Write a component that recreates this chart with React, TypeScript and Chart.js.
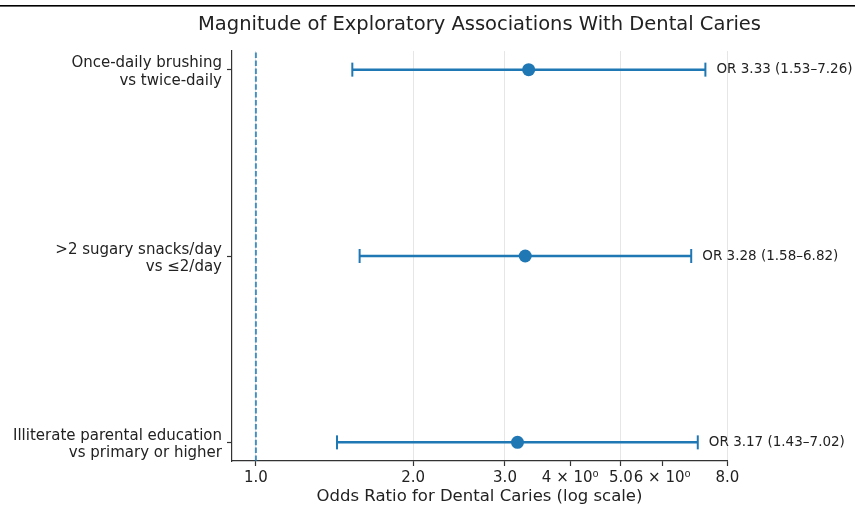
import React, { useEffect, useRef } from "react";
import { Chart, registerables } from "chart.js";

Chart.register(...registerables);

// ---- data ----
const categoryLabels: string[][] = [
  ["Illiterate parental education", "vs primary or higher"],
  [">2 sugary snacks/day", "vs ≤2/day"],
  ["Once-daily brushing", "vs twice-daily"],
];
const yPositions = [0, 1, 2];
const oddsRatios = [3.17, 3.28, 3.33];
const lowerCI = [1.43, 1.58, 1.53];
const upperCI = [7.02, 6.82, 7.26];
const annotationLabels = [
  "OR 3.17 (1.43–7.02)",
  "OR 3.28 (1.58–6.82)",
  "OR 3.33 (1.53–7.26)",
];
const xTickValues = [1, 2, 3, 4, 5, 6, 8];
const xTickLabels = ["1.0", "2.0", "3.0", "4 × 10⁰", "5.0", "6 × 10⁰", "8.0"];
const xGridValues = [1, 2, 3, 5, 8];
const xMin = 0.9;
const xMax = 7.986;
const yMin = -0.1;
const yMax = 2.1;
const refValue = 1;
const titleText = "Magnitude of Exploratory Associations With Dental Caries";
const xAxisTitle = "Odds Ratio for Dental Caries (log scale)";

const BLUE = "#1f77b4";
const FONT = '"DejaVu Sans", sans-serif';

export default function App() {
  const ref = useRef<HTMLCanvasElement | null>(null);

  useEffect(() => {
    if (!ref.current) return;

    const overlay = {
      id: "overlay",
      beforeDraw(chart: any) {
        const { ctx } = chart;
        ctx.save();
        ctx.fillStyle = "#000";
        ctx.fillRect(0, 5, chart.width, 1.6);
        ctx.restore();
      },
      afterDatasetsDraw(chart: any) {
        const { ctx, chartArea } = chart;
        const x = chart.scales.x;
        const y = chart.scales.y;
        ctx.save();
        ctx.fillStyle = "#222";
        ctx.textBaseline = "middle";
        ctx.textAlign = "left";
        ctx.font = `13.5px ${FONT}`;
        for (let i = 0; i < yPositions.length; i++) {
          ctx.fillText(
            annotationLabels[i],
            x.getPixelForValue(upperCI[i] * 1.05),
            y.getPixelForValue(yPositions[i])
          );
        }
        const cx = (chartArea.left + chartArea.right) / 2;
        ctx.textAlign = "center";
        ctx.font = `19.5px ${FONT}`;
        ctx.fillText(titleText, cx, 25);
        ctx.font = `16.5px ${FONT}`;
        ctx.fillText(xAxisTitle, cx, 497);
        ctx.restore();
      },
    };

    const datasets: any[] = [
      {
        label: "OR",
        data: yPositions.map((yv, i) => ({ x: oddsRatios[i], y: yv })),
        backgroundColor: BLUE,
        borderColor: BLUE,
        pointRadius: 6.5,
        pointBorderWidth: 0,
        showLine: false,
      },
    ];
    yPositions.forEach((yv, i) => {
      datasets.push({
        label: "CI" + i,
        data: [
          { x: lowerCI[i], y: yv },
          { x: upperCI[i], y: yv },
        ],
        showLine: true,
        borderColor: BLUE,
        borderWidth: 2.5,
        pointStyle: "line",
        pointRotation: 90,
        pointRadius: 7,
        pointBorderWidth: 2,
        pointBorderColor: BLUE,
        pointBackgroundColor: BLUE,
      });
    });
    datasets.push({
      label: "ref",
      data: [
        { x: refValue, y: yMin },
        { x: refValue, y: yMax },
      ],
      showLine: true,
      borderColor: "rgba(31,119,180,0.8)",
      borderWidth: 2,
      borderDash: [5.5, 2.4],
      pointRadius: 0,
    });

    const chart = new Chart(ref.current, {
      type: "scatter",
      data: { datasets },
      plugins: [overlay],
      options: {
        responsive: false,
        animation: false,
        devicePixelRatio: 1,
        layout: { padding: { top: 51, right: 128, left: 0, bottom: 0 } },
        plugins: {
          legend: { display: false },
          tooltip: { enabled: false },
          title: { display: false },
        },
        scales: {
          x: {
            type: "logarithmic",
            min: xMin,
            max: xMax,
            afterBuildTicks: (s: any) => {
              s.ticks = xTickValues.map((v) => ({ value: v }));
            },
            afterFit: (s: any) => {
              s.height = 48;
            },
            ticks: {
              autoSkip: false,
              maxRotation: 0,
              minRotation: 0,
              padding: 3,
              color: "#222",
              font: { family: FONT, size: 15 },
              callback: (v: any) => {
                const idx = xTickValues.indexOf(Number(v));
                return idx >= 0 ? xTickLabels[idx] : "";
              },
            },
            grid: {
              display: true,
              drawOnChartArea: true,
              drawTicks: true,
              tickLength: 5,
              tickWidth: 1.2,
              tickColor: "#333",
              lineWidth: 1,
              color: (ctx: any) =>
                ctx.tick && xGridValues.includes(ctx.tick.value)
                  ? "#e6e6e6"
                  : "rgba(0,0,0,0)",
            },
            border: { display: true, color: "#333", width: 1.2 },
          },
          y: {
            type: "linear",
            min: yMin,
            max: yMax,
            afterBuildTicks: (s: any) => {
              s.ticks = yPositions.map((v) => ({ value: v }));
            },
            afterFit: (s: any) => {
              s.width = 232;
            },
            ticks: {
              autoSkip: false,
              padding: 5,
              labelOffset: 2.5,
              color: "#222",
              font: { family: FONT, size: 15, lineHeight: 1.15 },
              callback: (v: any) => {
                const idx = yPositions.indexOf(Number(v));
                return idx >= 0 ? categoryLabels[idx] : "";
              },
            },
            grid: {
              display: true,
              drawOnChartArea: false,
              drawTicks: true,
              tickLength: 5,
              tickWidth: 1.2,
              tickColor: "#333",
            },
            border: { display: true, color: "#333", width: 1.2 },
          },
        },
      },
    });

    return () => chart.destroy();
  }, []);

  return (
    <div
      style={{
        position: "fixed",
        left: 0,
        top: 0,
        width: 855,
        height: 509,
        background: "#fff",
      }}
    >
      <canvas ref={ref} width={855} height={509} />
    </div>
  );
}
